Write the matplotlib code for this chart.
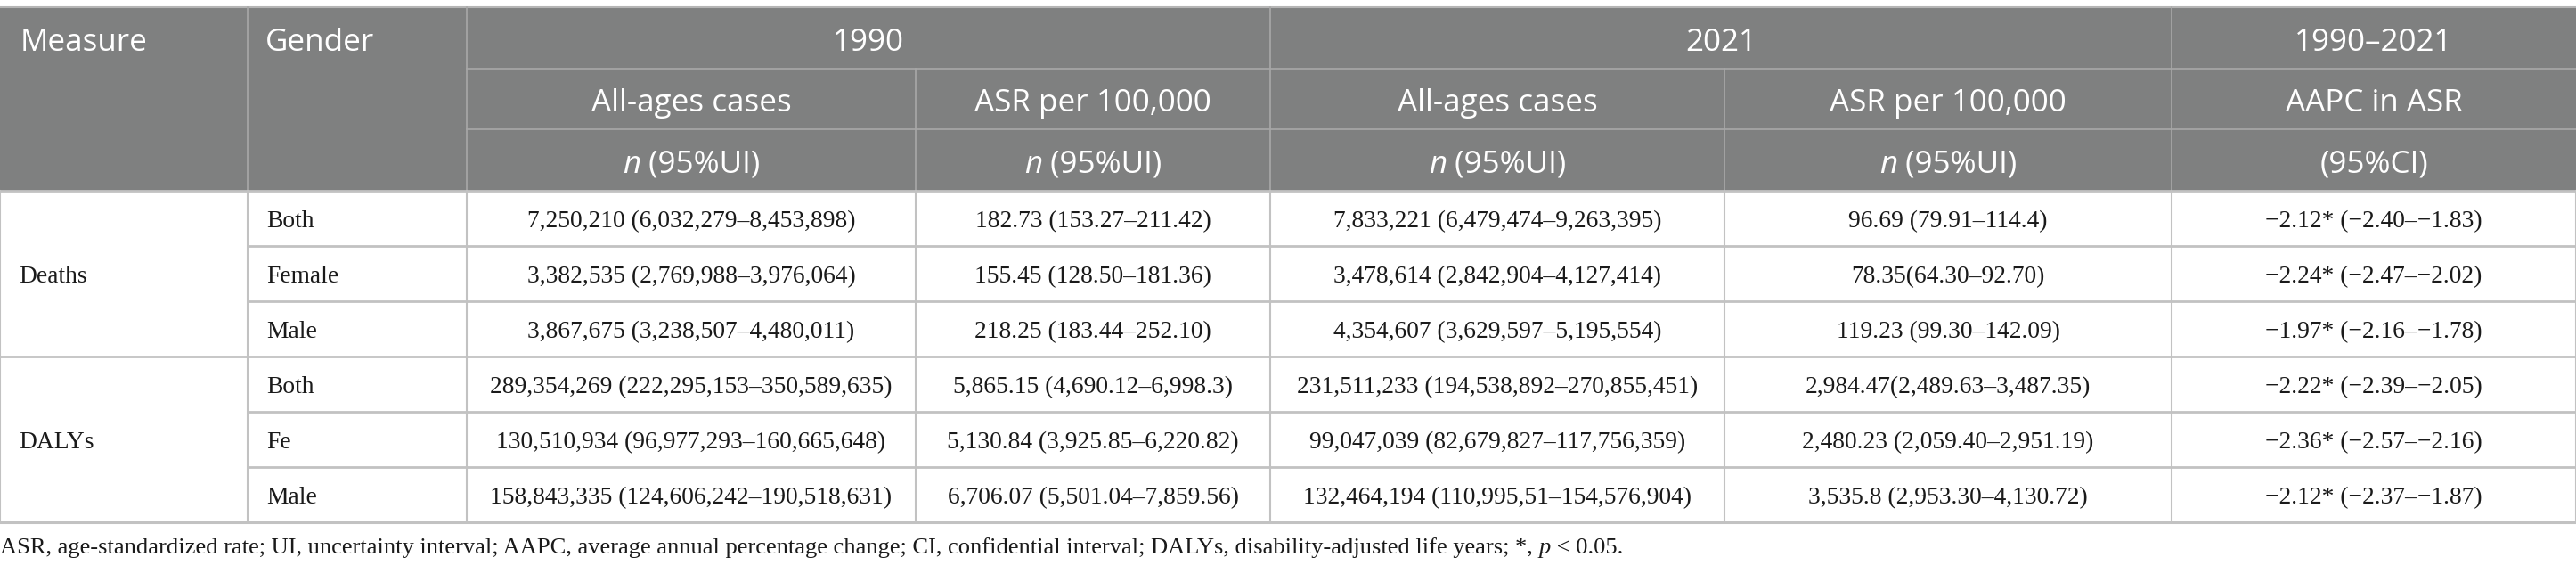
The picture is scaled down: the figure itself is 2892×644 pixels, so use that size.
import matplotlib
matplotlib.use("Agg")
import matplotlib.pyplot as plt
from matplotlib.patches import Rectangle

# valores de la tabla (tal como aparecen en la imagen)
measures = ["Deaths", "DALYs"]
genders = ["Both", "Female", "Male", "Both", "Fe", "Male"]
cases_1990 = ["7,250,210 (6,032,279–8,453,898)", "3,382,535 (2,769,988–3,976,064)",
              "3,867,675 (3,238,507–4,480,011)", "289,354,269 (222,295,153–350,589,635)",
              "130,510,934 (96,977,293–160,665,648)", "158,843,335 (124,606,242–190,518,631)"]
asr_1990 = ["182.73 (153.27–211.42)", "155.45 (128.50–181.36)", "218.25 (183.44–252.10)",
            "5,865.15 (4,690.12–6,998.3)", "5,130.84 (3,925.85–6,220.82)",
            "6,706.07 (5,501.04–7,859.56)"]
cases_2021 = ["7,833,221 (6,479,474–9,263,395)", "3,478,614 (2,842,904–4,127,414)",
              "4,354,607 (3,629,597–5,195,554)", "231,511,233 (194,538,892–270,855,451)",
              "99,047,039 (82,679,827–117,756,359)", "132,464,194 (110,995,51–154,576,904)"]
asr_2021 = ["96.69 (79.91–114.4)", "78.35(64.30–92.70)", "119.23 (99.30–142.09)",
            "2,984.47(2,489.63–3,487.35)", "2,480.23 (2,059.40–2,951.19)",
            "3,535.8 (2,953.30–4,130.72)"]
aapc = ["−2.12* (−2.40–−1.83)", "−2.24* (−2.47–−2.02)", "−1.97* (−2.16–−1.78)",
        "−2.22* (−2.39–−2.05)", "−2.36* (−2.57–−2.16)", "−2.12* (−2.37–−1.87)"]
year_headers = ["1990", "2021", "1990–2021"]
sub_headers = ["All-ages cases", "ASR per 100,000", "All-ages cases", "ASR per 100,000", "AAPC in ASR"]
footnote = ("ASR, age-standardized rate; UI, uncertainty interval; AAPC, average annual "
            "percentage change; CI, confidential interval; DALYs, disability-adjusted life years; *, ")

W, H = 2892, 644
col_x = [0, 278, 524, 1028, 1426, 1936, 2438, 2892]
head_y = [8, 77, 145, 214]
row_h = 62
HEAD_BG = "#7f8080"
HEAD_LINE = "#a8a8a8"
BODY_LINE = "#c2c2c2"
TXT = "#1a1a1a"
SANS = "Open Sans"
SERIF = "Liberation Serif"

fig = plt.figure(figsize=(W / 100, H / 100), dpi=100)
ax = fig.add_axes([0, 0, 1, 1])
ax.set_xlim(0, W)
ax.set_ylim(H, 0)
ax.axis("off")
renderer = fig.canvas.get_renderer()


def text_width(s, size, family, style="normal"):
    t = ax.text(0, 0, s, fontsize=size, family=family, style=style)
    w = t.get_window_extent(renderer).width
    t.remove()
    return w


# tamaños ajustados a los anchos medidos en la imagen
HS = 24 * 143 / text_width("Measure", 24, SANS)
BS = 20 * 369 / text_width("7,833,221 (6,479,474–9,263,395)", 20, SERIF)
FS = 20 * 1823 / (text_width(footnote + "p < 0.05.", 20, SERIF))


def runs_text(x, y, runs, size, family, color, ha="center"):
    # dibuja varios trozos (normal / cursiva) seguidos
    arts = []
    total = 0
    for s, style in runs:
        t = ax.text(0, y, s, fontsize=size, family=family, style=style,
                    color=color, va="baseline", ha="left")
        w = t.get_window_extent(renderer).width
        arts.append((t, w))
        total += w
    start = x - total / 2 if ha == "center" else x
    for t, w in arts:
        t.set_x(start)
        start += w


# cabecera
ax.add_patch(Rectangle((0, head_y[0]), W, head_y[3] - head_y[0], color=HEAD_BG, lw=0))
ax.plot([0, W], [head_y[0], head_y[0]], color="#b5b5b5", lw=1.5)
for x in [col_x[1], col_x[2], col_x[4], col_x[6]]:
    ax.plot([x, x], [head_y[0], head_y[3]], color=HEAD_LINE, lw=1.2)
for x in [col_x[3], col_x[5]]:
    ax.plot([x, x], [head_y[1], head_y[3]], color=HEAD_LINE, lw=1.2)
for y in head_y[1:3]:
    ax.plot([col_x[2], W], [y, y], color=HEAD_LINE, lw=1.2)

hb = [(head_y[i] + head_y[i + 1]) / 2 + 14 for i in range(3)]  # líneas base
ax.text(col_x[0] + 23, hb[0], "Measure", fontsize=HS, family=SANS, color="white", va="baseline")
ax.text(col_x[1] + 20, hb[0], "Gender", fontsize=HS, family=SANS, color="white", va="baseline")
spans = [(col_x[2], col_x[4]), (col_x[4], col_x[6]), (col_x[6], col_x[7])]
for (a, b), lab in zip(spans, year_headers):
    ax.text((a + b) / 2, hb[0], lab, fontsize=HS, family=SANS, color="white",
            va="baseline", ha="center")
for i, lab in enumerate(sub_headers):
    xc = (col_x[2 + i] + col_x[3 + i]) / 2
    ax.text(xc, hb[1], lab, fontsize=HS, family=SANS, color="white", va="baseline", ha="center")
    if i < 4:
        runs_text(xc, hb[2], [("n", "italic"), (" (95%UI)", "normal")], HS, SANS, "white")
    else:
        runs_text(xc, hb[2], [("(95%CI)", "normal")], HS, SANS, "white")

# cuerpo
top = head_y[3]
columns = [cases_1990, asr_1990, cases_2021, asr_2021, aapc]
for r in range(len(genders)):
    y0 = top + r * row_h
    yb = y0 + row_h / 2 + 10
    ax.text(col_x[1] + 21, yb, genders[r], fontsize=BS, family=SERIF, color=TXT, va="baseline")
    for c, vals in enumerate(columns):
        xc = (col_x[2 + c] + col_x[3 + c]) / 2
        ax.text(xc, yb, vals[r], fontsize=BS, family=SERIF, color=TXT, va="baseline", ha="center")
    if r % 3 == 0:
        ax.plot([0, W], [y0, y0], color=BODY_LINE, lw=2)
    else:
        ax.plot([col_x[1], W], [y0, y0], color=BODY_LINE, lw=2)
bottom = top + len(genders) * row_h
ax.plot([0, W], [bottom, bottom], color=BODY_LINE, lw=2.2)
for x in col_x:
    ax.plot([x, x], [top, bottom], color=BODY_LINE, lw=1.5)
for i, m in enumerate(measures):
    yb = top + (i * 3 + 1.5) * row_h + 10
    ax.text(col_x[0] + 21, yb, m, fontsize=BS, family=SERIF, color=TXT, va="baseline")

# nota al pie
runs_text(0, bottom + 35, [(footnote, "normal"), ("p", "italic"), (" < 0.05.", "normal")],
          FS, SERIF, TXT, ha="left")

fig.savefig("out.png", dpi=100)
